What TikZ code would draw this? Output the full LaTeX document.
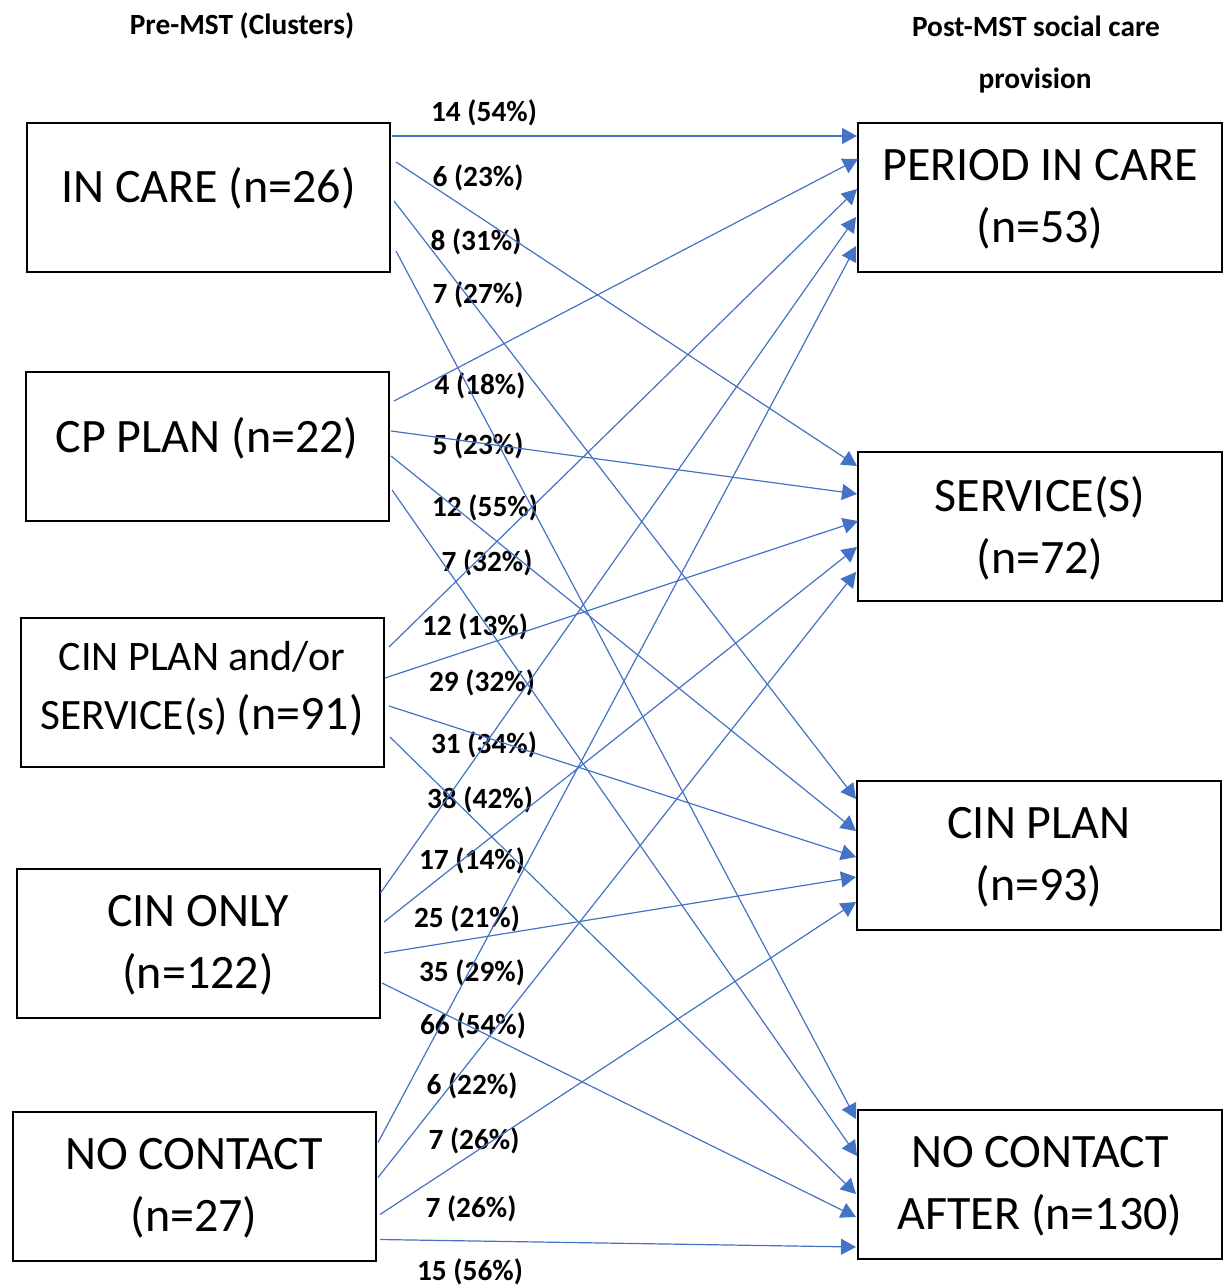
\documentclass[tikz,border=0pt]{standalone}
\usepackage{fontspec}
\setmainfont{Carlito}
\usetikzlibrary{arrows.meta,calc}
\definecolor{flowblue}{HTML}{4472C4}
\begin{document}
\begin{tikzpicture}[x=0.75pt,y=-0.75pt,
  box/.style={draw=black, line width=1.5pt, minimum width=272.25pt, minimum height=111.75pt, inner sep=0pt, fill=white},
  rbox/.style={box, minimum width=273pt},
  boxtxt/.style={font=\fontsize{36}{46.5}\selectfont, align=center, inner sep=0pt},
  lbl/.style={font=\bfseries\fontsize{22}{26}\selectfont, inner sep=0pt},
  flow/.style={draw=flowblue, line width=0.9pt, -{Triangle[length=11.25pt,width=12pt]}}]
\useasboundingbox (0,0) rectangle (1224,1288);

% headers
\node[lbl] (h1) at (242,26) {Pre-MST (Clusters)};
\node[lbl] (h2) at (1036,26) {Post-MST social care};
\node[lbl] (h3) at (1035,81) {provision};

% boxes
\node[box] (ic) at (208.5,197.5) {};
\node[box] (cp) at (207,446.5) {};
\node[box] (cs) at (202,692.5) {};
\node[box] (co) at (198,943.5) {};
\node[box] (nc) at (194,1186) {};
\node[rbox] (pc) at (1040,197.5) {};
\node[rbox] (sv) at (1040,526.5) {};
\node[rbox] (cpl) at (1039,855.5) {};
\node[rbox] (na) at (1040,1184.5) {};

% box texts
\node[boxtxt] (ict) at (208.5,188) {IN CARE (n=26)};
\node[boxtxt] (cpt) at (207,438) {CP PLAN (n=22)};
\node[boxtxt, font=\fontsize{31.5}{44}\selectfont] (cst) at (202,689) {CIN PLAN and/or\\{\fontsize{32.5}{44}\selectfont SERVICE(s)} {\fontsize{36}{44}\selectfont (n=91)}};
\node[boxtxt] (cot) at (198,945) {CIN ONLY\\(n=122)};
\node[boxtxt] (nct) at (194,1188.5) {NO CONTACT\\(n=27)};
\node[boxtxt] (pct) at (1040,199) {PERIOD IN CARE\\(n=53)};
\node[boxtxt] (svt) at (1040,528.5) {SERVICE(S)\\(n=72)};
\node[boxtxt] (cplt) at (1039,857) {CIN PLAN\\(n=93)};
\node[boxtxt] (nat) at (1040,1186) {NO CONTACT\\AFTER (n=130)};

% labels
\node[lbl] (l1) at (484,113) {14 (54\%)};
\node[lbl] (l2) at (478,178) {6 (23\%)};
\node[lbl] (l3) at (476,242) {8 (31\%)};
\node[lbl] (l4) at (478,295) {7 (27\%)};
\node[lbl] (l5) at (480,386) {4 (18\%)};
\node[lbl] (l6) at (478,446) {5 (23\%)};
\node[lbl] (l7) at (485,508) {12 (55\%)};
\node[lbl] (l8) at (487,563) {7 (32\%)};
\node[lbl] (l9) at (475,627) {12 (13\%)};
\node[lbl] (l10) at (482,683) {29 (32\%)};
\node[lbl] (l11) at (484,745) {31 (34\%)};
\node[lbl] (l12) at (480,800) {38 (42\%)};
\node[lbl] (l13) at (472,861) {17 (14\%)};
\node[lbl] (l14) at (467,919) {25 (21\%)};
\node[lbl] (l15) at (472,973) {35 (29\%)};
\node[lbl] (l16) at (473,1026) {66 (54\%)};
\node[lbl] (l17) at (472,1086) {6 (22\%)};
\node[lbl] (l18) at (474,1141) {7 (26\%)};
\node[lbl] (l19) at (471,1209) {7 (26\%)};
\node[lbl] (l20) at (470,1272) {15 (56\%)};

% flows from IN CARE
\draw[flow] ($(ic.north east)+(1,14)$) -- ($(pc.north west)+(0,14)$);
\draw[flow] ($(ic.north east)+(5,40)$) -- ($(sv.north west)+(0,15)$);
\draw[flow] ($(ic.north east)+(3,79)$) -- ($(cpl.north west)+(0,19)$);
\draw[flow] ($(ic.north east)+(5,129)$) -- ($(na.north west)+(-1,10)$);
% flows from CP PLAN
\draw[flow] ($(cp.north east)+(4.5,30)$) -- ($(pc.north west)+(1,37)$);
\draw[flow] ($(cp.north east)+(1.5,60)$) -- ($(sv.north west)+(0,43)$);
\draw[flow] ($(cp.north east)+(1.5,85)$) -- ($(cpl.north west)+(0,51)$);
\draw[flow] ($(cp.north east)+(2.5,119)$) -- ($(na.north west)+(0,47)$);
% flows from CIN PLAN and/or SERVICE(s)
\draw[flow] ($(cs.north east)+(4.5,30)$) -- ($(pc.north west)+(0,67)$);
\draw[flow] ($(cs.north east)+(0.5,61)$) -- ($(sv.north west)+(1,70)$);
\draw[flow] ($(cs.north east)+(4.5,89)$) -- ($(cpl.north west)+(0,77)$);
\draw[flow] ($(cs.north east)+(5.5,120)$) -- ($(na.north west)+(-1,85)$);
% flows from CIN ONLY
\draw[flow] ($(co.north east)+(0,25)$) -- ($(pc.north west)+(-1,95)$);
\draw[flow] ($(co.north east)+(3.5,54)$) -- ($(sv.north west)+(0,96)$);
\draw[flow] ($(co.north east)+(3.5,85)$) -- ($(cpl.north west)+(0,97)$);
\draw[flow] ($(co.north east)+(1.5,115)$) -- ($(na.north west)+(-1,108)$);
% flows from NO CONTACT
\draw[flow] ($(nc.north east)+(1.5,32)$) -- ($(pc.north west)+(-1,124)$);
\draw[flow] ($(nc.north east)+(1.5,67)$) -- ($(sv.north west)+(-1,121)$);
\draw[flow] ($(nc.north east)+(3.5,104)$) -- ($(cpl.north west)+(0,122)$);
\draw[flow] ($(nc.north east)+(3.5,129)$) -- ($(na.north west)+(-1,138)$);
\end{tikzpicture}
\end{document}
